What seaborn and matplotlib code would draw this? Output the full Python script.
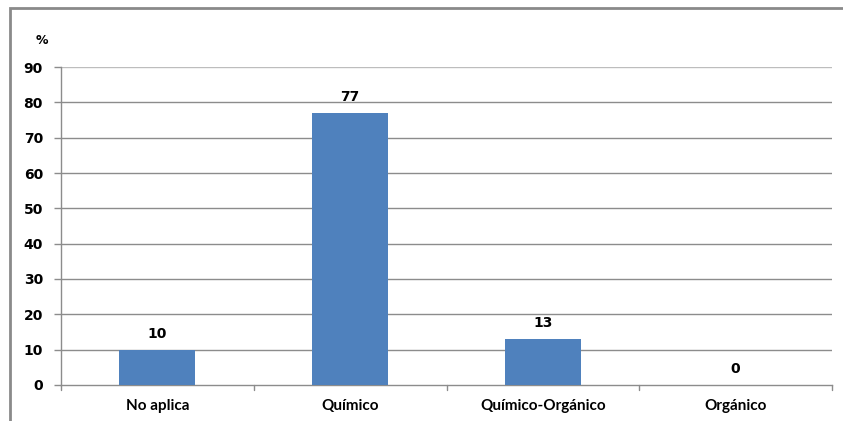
import matplotlib
matplotlib.use("Agg")
import matplotlib.pyplot as plt
import seaborn as sns
import pandas as pd
from matplotlib.patches import Rectangle

categories = ["No aplica", "Químico", "Químico-Orgánico", "Orgánico"]
values = [10, 77, 13, 0]
yticks = [0, 10, 20, 30, 40, 50, 60, 70, 80, 90]

sns.set_theme(style="white")
plt.rcParams["font.family"] = ["DejaVu Sans"]

df = pd.DataFrame({"categoria": categories, "porcentaje": values})

fig = plt.figure(figsize=(8.43, 4.21), dpi=100)
ax = fig.add_axes([61 / 843, 1 - 385 / 421, (832 - 61) / 843, (385 - 67) / 421])

sns.barplot(data=df, x="categoria", y="porcentaje", color="#4F81BD",
            saturation=1, width=0.395, linewidth=0, ax=ax, zorder=3)

ax.set_ylim(0, 90)
ax.set_xlim(-0.5, len(categories) - 0.5)
ax.set_yticks(yticks)
ax.set_yticklabels([str(t) for t in yticks], fontsize=10, fontweight="bold",
                   color="black")
ax.set_xticks(range(len(categories)))
ax.set_xticklabels(categories, fontsize=11, fontweight="bold",
                   family=["Lato", "DejaVu Sans"], color="black")
ax.set_xlabel("")
ax.set_ylabel("")

# horizontal grid
for t in yticks[1:]:
    ax.axhline(t, color="#bdbdbd" if t == 90 else "#8c8c8c", lw=1.0, zorder=1)

for s in ["top", "right"]:
    ax.spines[s].set_visible(False)
ax.spines["left"].set_color("#8c8c8c")
ax.spines["bottom"].set_color("#8c8c8c")
ax.spines["left"].set_linewidth(1.0)
ax.spines["bottom"].set_linewidth(1.0)

ax.tick_params(axis="y", length=5, width=1, color="#8c8c8c", pad=8, left=True)
ax.tick_params(axis="x", length=0, pad=10)

# category separators on the x axis
for b in [-0.5, 0.5, 1.5, 2.5, 3.5]:
    ax.plot([b, b], [0, -1.5], color="#8c8c8c", lw=1, clip_on=False, zorder=4)

# value labels
for i, v in enumerate(values):
    ax.text(i, v + 2.5, str(v), ha="center", va="bottom", fontsize=10,
            fontweight="bold", color="black")

fig.text(42 / 843, 1 - 40 / 421, "%", ha="center", va="center", fontsize=9,
         fontweight="bold", color="black")

# outer frame of the chart area
fig.patches.append(Rectangle((10 / 843, -0.05), 1.0, 1 - 8 / 421 + 0.05,
                             transform=fig.transFigure, fill=False,
                             edgecolor="#8a8a8a", lw=2.0))

fig.savefig("out.png", dpi=100)
